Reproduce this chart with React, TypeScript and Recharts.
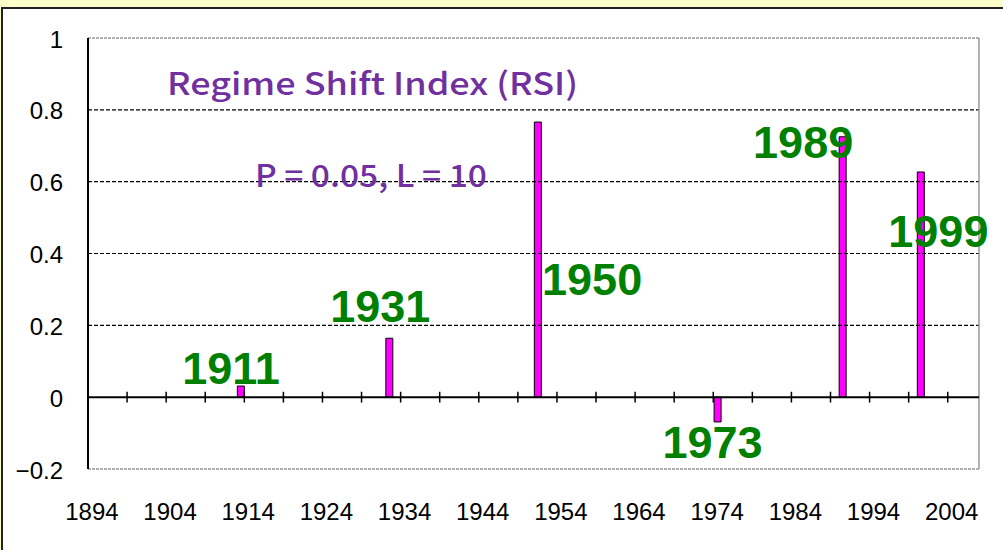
import { ComposedChart, Bar, Scatter, XAxis, YAxis, ReferenceLine } from 'recharts';

// bar positions (year on the category scale) and RSI values
const barYears = [1913, 1932, 1951, 1974, 1990, 2000];
const rsiValues = [0.031, 0.164, 0.766, -0.069, 0.725, 0.627];

// green year annotations
const shiftLabels = ['1911', '1931', '1950', '1973', '1989', '1999'];
const shiftLabelX = [1911.8, 1930.9, 1958.0, 1973.4, 1985.0, 2002.3];
const shiftLabelY = [0.081, 0.2525, 0.329, -0.125, 0.709, 0.46];

// purple captions
const captionTexts = ['Regime Shift Index (RSI)', 'P = 0.05, L = 10'];
const captionX = [1929.9, 1929.7];
const captionY = [0.879, 0.623];
const captionWidths = [411, 232];

const xTicks = [1894, 1904, 1914, 1924, 1934, 1944, 1954, 1964, 1974, 1984, 1994, 2004];
const yTicks = [-0.2, 0, 0.2, 0.4, 0.6, 0.8, 1];
const gridValues = [0.2, 0.4, 0.6, 0.8];
const minorTicks = [
  1893.5, 1898.5, 1903.5, 1908.5, 1913.5, 1918.5, 1923.5, 1928.5, 1933.5, 1938.5, 1943.5,
  1948.5, 1953.5, 1958.5, 1963.5, 1968.5, 1973.5, 1978.5, 1983.5, 1988.5, 1993.5, 1998.5, 2003.5,
];

const barData = barYears.map((x, i) => ({ x, rsi: rsiValues[i] }));
const shiftData = shiftLabels.map((text, i) => ({ x: shiftLabelX[i], y: shiftLabelY[i], text }));
const captionData = captionTexts.map((text, i) => ({ x: captionX[i], y: captionY[i], text, w: captionWidths[i] }));

const XTick = (props: any) => (
  <text x={props.x} y={props.y + 42} textAnchor="middle" dominantBaseline="central"
    fontSize={24} fill="#000" fontFamily="Liberation Sans, Arial, sans-serif">
    {props.payload.value}
  </text>
);

const YTick = (props: any) => (
  <text x={63} y={props.y + 1} textAnchor="end" dominantBaseline="central"
    fontSize={24} fill="#000" fontFamily="Liberation Sans, Arial, sans-serif">
    {props.payload.value < 0 ? '\u2212' + Math.abs(props.payload.value) : props.payload.value}
  </text>
);

const ShiftText = (props: any) => (
  <text x={props.cx} y={props.cy} textAnchor="middle" dominantBaseline="central"
    fontSize={45} fontWeight="bold" fill="#008000" fontFamily="Liberation Sans, Arial, sans-serif">
    {props.payload.text}
  </text>
);

const CaptionText = (props: any) => (
  <text x={props.cx - props.payload.w / 2} y={props.cy} dominantBaseline="central"
    fontSize={31} fontWeight={500} fill="#7030A0" fontFamily="Noto Sans CJK JP, Noto Sans, sans-serif"
    textLength={props.payload.w} lengthAdjust="spacingAndGlyphs">
    {props.payload.text}
  </text>
);

export default function App() {
  return (
    <div style={{ position: 'relative', width: 1003, height: 550, background: '#FFFFCC', overflow: 'hidden' }}>
      <style>{`body{margin:0}`}</style>
      <div style={{
        position: 'absolute', left: 1, top: 7, right: -10, bottom: -10,
        borderLeft: '2px solid #222', borderTop: '2px solid #222', background: '#fff',
      }} />
      <div style={{ position: 'absolute', left: 0, top: 0 }}>
        <ComposedChart width={1003} height={550} data={barData}
          margin={{ top: 38, right: 24, bottom: 31, left: 0 }}>
          <XAxis dataKey="x" type="number" domain={[1893.5, 2007.5]} ticks={xTicks}
            axisLine={false} tickLine={false} tickSize={0} tickMargin={0}
            height={50} tick={<XTick />} interval={0} />
          <XAxis xAxisId="text" dataKey="x" type="number" domain={[1893.5, 2007.5]} hide />
          <YAxis type="number" domain={[-0.2, 1]} ticks={yTicks} width={88}
            axisLine={{ stroke: '#000', strokeWidth: 2 }} tickLine={false} tick={<YTick />} interval={0} />
          <Scatter xAxisId="text" data={captionData} dataKey="y" shape={<CaptionText />} isAnimationActive={false} />
          <Scatter xAxisId="text" data={shiftData} dataKey="y" shape={<ShiftText />} isAnimationActive={false} />
          {gridValues.map((v) => (
            <ReferenceLine key={v} y={v} stroke="#000" strokeWidth={1.2} strokeDasharray="4 2" />
          ))}
          <ReferenceLine y={1} stroke="#999" strokeWidth={1.5} strokeDasharray="3 1" />
          <ReferenceLine y={-0.2} stroke="#999" strokeWidth={1.5} strokeDasharray="3 1" />
          <ReferenceLine x={2007.5} stroke="#999" strokeWidth={1.5} />
          <ReferenceLine y={0} stroke="#000" strokeWidth={2} />
          {minorTicks.map((t) => (
            <ReferenceLine key={t} segment={[{ x: t, y: -0.015 }, { x: t, y: 0.015 }]}
              stroke="#000" strokeWidth={1.5} />
          ))}
          <Bar dataKey="rsi" barSize={7} fill="#FF00FF" stroke="#000" strokeWidth={1}
            isAnimationActive={false} />
        </ComposedChart>
      </div>
    </div>
  );
}
